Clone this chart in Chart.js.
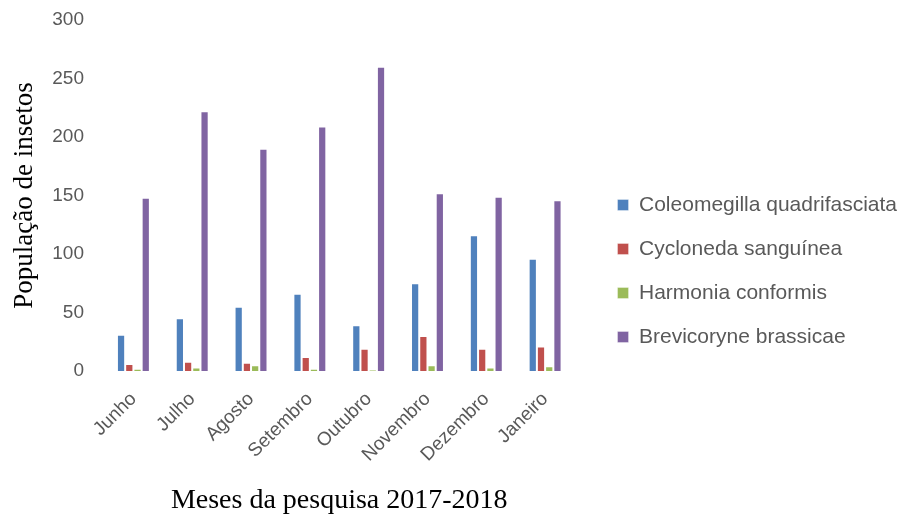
<!DOCTYPE html>
<html>
<head>
<meta charset="utf-8">
<script src="https://cdn.jsdelivr.net/npm/chart.js@4/dist/chart.umd.min.js"></script>
<style>
    html, body { margin: 0; padding: 0; background: #fff; }
    #wrap { width: 900px; height: 515px; }
</style>
</head>
<body>
<div id="wrap"><canvas id="chart"></canvas></div>
<script>
const MONTHS = ['Junho', 'Julho', 'Agosto', 'Setembro', 'Outubro', 'Novembro', 'Dezembro', 'Janeiro'];
const COLEOMEGILLA = [31, 45, 55, 66, 39, 75, 116, 96];
const CYCLONEDA = [6, 8, 7, 12, 19, 30, 19, 21];
const HARMONIA = [2, 3, 5, 2, 1, 5, 3, 4];
const BREVICORYNE = [148, 222, 190, 209, 260, 152, 149, 146];
const Y_MIN = 0, Y_MAX = 300, Y_STEP = 50;

const SERIES = [
    { label: 'Coleomegilla quadrifasciata', data: COLEOMEGILLA, color: '#4F81BD' },
    { label: 'Cycloneda sanguínea', data: CYCLONEDA, color: '#C0504D' },
    { label: 'Harmonia conformis', data: HARMONIA, color: '#9BBB59' },
    { label: 'Brevicoryne brassicae', data: BREVICORYNE, color: '#8064A2' },
];

const tickFont = { family: 'Liberation Sans', size: 19 };
const titleFont = { family: 'Liberation Serif', size: 27, lineHeight: 1 };

const datasets = SERIES.map(s => ({
    label: s.label,
    data: s.data,
    backgroundColor: s.color,
    borderColor: 'rgba(255,255,255,0.35)',
    borderWidth: 1,
    categoryPercentage: 0.56,
    barPercentage: 1.0,
}));

new Chart(document.querySelector('#chart'), {
    type: 'bar',
    data: { labels: MONTHS, datasets },
    options: {
        responsive: true,
        maintainAspectRatio: false,
        animation: false,
        layout: { padding: { top: 20, right: -7, bottom: 0, left: 0 } },
        plugins: {
            tooltip: { enabled: false },
            legend: {
                position: 'right',
                align: 'center',
                maxWidth: 330,
                // empty title only nudges the legend rows down a bit
                title: { display: true, text: '', font: { size: 7, lineHeight: 1 }, padding: 0 },
                labels: { boxWidth: 11, boxHeight: 11, padding: 23, color: '#595959', font: { family: 'Liberation Sans', size: 21 } },
            },
        },
        scales: {
            x: {
                grid: { display: false, drawTicks: false },
                border: { display: false },
                ticks: { color: '#595959', font: tickFont, minRotation: 45, maxRotation: 45, padding: 17 },
                title: { display: true, text: 'Meses da pesquisa 2017-2018', color: '#000', font: { ...titleFont, size: 28 }, padding: 0 },
                afterFit: s => { s.height = 144; },
            },
            y: {
                min: Y_MIN,
                max: Y_MAX,
                grid: { display: false, drawTicks: false },
                border: { display: false },
                ticks: { stepSize: Y_STEP, color: '#595959', font: tickFont, padding: 20 },
                title: { display: true, text: 'População de insetos', color: '#000', font: titleFont, padding: { top: 11.5, bottom: 0 } },
                afterFit: s => { s.width = 104; s.paddingTop = 11; s.paddingBottom = 11; },
            },
            y2: {
                position: 'right',
                grid: { display: false, drawTicks: false },
                border: { display: false },
                ticks: { display: false },
                afterFit: s => { s.width = 20; },
            },
        },
    },
});
</script>
</body>
</html>
